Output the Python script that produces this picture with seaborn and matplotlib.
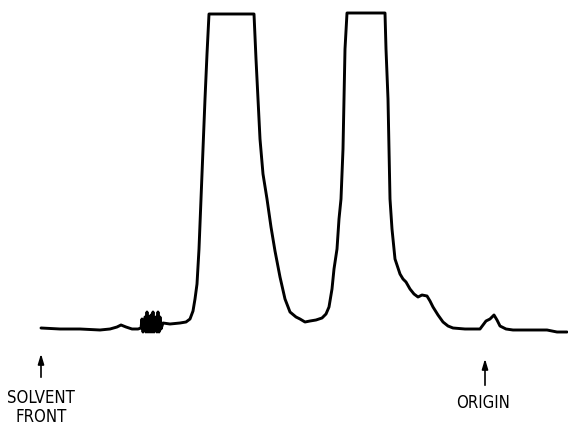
import numpy as np
import matplotlib
matplotlib.use('Agg')
import matplotlib.pyplot as plt
import seaborn as sns
import pandas as pd

sns.set_style('white')
plt.rcParams['font.family'] = ['DejaVu Sans']

# densitometer trace, distance along strip vs. deflection above baseline
# (x in px along strip, y in px of pen position)
distance = [41, 60, 80, 100, 110, 117, 121, 126, 132, 138, 141,
            142, 143, 145, 146, 147, 148, 149, 150, 151, 152, 153, 154,
            156, 157, 158, 159, 160, 161, 163,
            170, 180, 186, 190, 193, 195, 197, 199, 201, 203, 205, 207, 209,
            254, 256, 258, 260, 263, 267, 271, 275, 280, 285, 290, 296,
            300, 305, 310, 316, 322, 326, 329, 332, 334, 337, 339, 341,
            343, 344, 345, 347,
            385, 386, 388, 389, 390, 392, 395, 400, 403, 406, 410, 414,
            418, 422, 427, 430, 433, 438, 443, 448, 453, 465, 480, 483,
            486, 490, 494, 497, 500, 506, 513, 530, 547, 557, 567]
pen_y = [329, 330, 330, 331, 330, 328, 326, 328, 330, 330, 329,
         320, 333, 318, 333, 313, 333, 318, 333, 316, 333, 313, 333,
         318, 333, 313, 333, 318, 330, 324,
         325, 324, 323, 320, 312, 300, 285, 250, 200, 150, 100, 55, 15,
         15, 60, 100, 140, 175, 200, 228, 252, 278, 300, 313, 318,
         320, 323, 322, 321, 319, 315, 308, 290, 270, 250, 220, 200,
         150, 100, 50, 14,
         14, 50, 100, 150, 200, 230, 260, 275, 280, 283, 290, 295,
         298, 296, 297, 302, 308, 316, 323, 327, 329, 330, 330, 326,
         322, 320, 316, 321, 327, 330, 331, 331, 331, 333, 333]

baseline = 335
trace = pd.DataFrame({'distance': distance,
                      'signal': [baseline - p for p in pen_y]})

solvent_front_x = 41
origin_x = 485

fig = plt.figure(figsize=(5.68, 4.27), dpi=100)
ax = fig.add_axes([0, 0, 1, 1])

sns.lineplot(data=trace, x='distance', y='signal', sort=False, estimator=None,
             color='black', linewidth=2.1, ax=ax)

ax.set_xlim(0, 568)
ax.set_ylim(baseline - 427, baseline)
ax.axis('off')

arrow = dict(arrowstyle='-|>,head_length=0.6,head_width=0.18', color='black', lw=1.2)
ax.annotate('', xy=(solvent_front_x, baseline - 352), xytext=(solvent_front_x, baseline - 381),
            arrowprops=arrow)
ax.annotate('', xy=(origin_x, baseline - 357), xytext=(origin_x, baseline - 389),
            arrowprops=arrow)

lbl = dict(ha='center', va='center', fontsize=12, fontstretch='condensed', color='black')
ax.text(solvent_front_x, baseline - 398, 'SOLVENT', **lbl)
ax.text(solvent_front_x, baseline - 417, 'FRONT', **lbl)
ax.text(origin_x - 2, baseline - 403, 'ORIGIN', **lbl)

fig.savefig('out.png', dpi=100)
